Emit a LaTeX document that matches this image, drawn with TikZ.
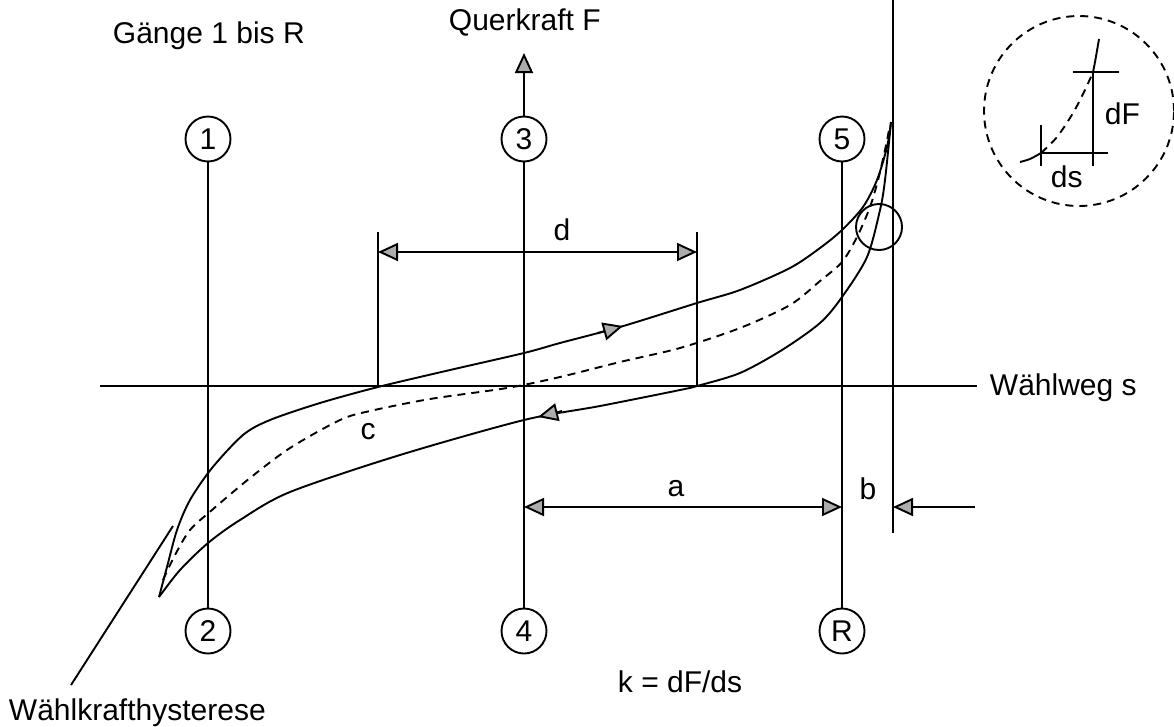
\documentclass[tikz,border=0pt]{standalone}
\usepackage{fontspec}
\setmainfont{Liberation Sans}
\usetikzlibrary{arrows.meta}
\begin{document}
\begin{tikzpicture}[x=1pt,y=-1pt,line width=1.9pt,
  font=\fontsize{30}{36}\selectfont,
  >={Triangle[length=20pt,width=18pt,fill=gray!65]},
  gear/.style={circle,draw,minimum size=45pt,inner sep=0pt},
  lbl/.style={anchor=base west,inner sep=0pt},
  dsh/.style={dash pattern=on 8pt off 6pt},
  curve/.style={smooth,tension=0.5}]
\useasboundingbox (0,0) rectangle (1174,726);

% gear circles
\node[gear] (n1) at (208,139) {1};
\node[gear] (n3) at (524,139) {3};
\node[gear] (n5) at (842,139) {5};
\node[gear] (n2) at (208,631) {2};
\node[gear] (n4) at (524,631) {4};
\node[gear] (nR) at (842,631) {R};

\coordinate (ftip) at (524,53);
\draw (n1) -- (n2);
\draw (n3) -- (n4);
\draw[->] (n3) -- (ftip);
\draw (n5) -- (nR);

% s axis
\coordinate (sl) at (100,386);
\coordinate (sr) at (977,386);
\draw (sl) -- (sr);
\node[lbl] (ws) at (989,395) {Wählweg s};

% right end line
\coordinate (et) at (893,0);
\coordinate (eb) at (893,533);
\draw (et) -- (eb);

% d dimension
\coordinate (dlt) at (378,232); \coordinate (dlb) at (378,386);
\coordinate (drt) at (697,232); \coordinate (drb) at (697,386);
\draw (dlt) -- (dlb);
\draw (drt) -- (drb);
\coordinate (dl) at (378,252); \coordinate (dr) at (697,252);
\draw[<->] (dl) -- (dr);
\node (dtxt) at (562,230) {d};

% a and b dimensions
\coordinate (al) at (524,507); \coordinate (ar) at (842,507);
\coordinate (bo) at (975,507); \coordinate (bt) at (893,507);
\draw[<->] (al) -- (ar);
\draw[->] (bo) -- (bt);
\node (atxt) at (676,489) {a};
\node (btxt) at (868,489) {b};

% hysteresis loop
\draw plot[curve] coordinates {(159,597) (167,567) (177,530) (190,500) (212,468) (243,435) (270,420) (320,403) (378,387) (450,370) (524,353) (560,343) (620,327) (697,303) (740,290) (790,268) (820,248) (842,230) (863,207) (877,180) (887,147) (891,122)};
\draw plot[curve] coordinates {(891,122) (885,180) (880,210) (867,257) (842,297) (820,323) (782,350) (740,373) (697,386) (680,390) (600,406) (524,420) (400,455) (290,492) (240,520) (208,543) (180,570) (159,597)};
\draw[dsh] plot[curve] coordinates {(163,580) (175,555) (190,530) (212,510) (250,478) (290,448) (340,420) (370,411) (430,399) (507,388) (560,377) (620,362) (680,348) (740,328) (790,305) (820,281) (842,262) (857,237) (870,207) (878,180) (885,150) (890,125)};

% direction arrows on the loop
\coordinate (ua) at (598,333); \coordinate (ub) at (623,326);
\draw[->] (ua) -- (ub);
\coordinate (la) at (562,411); \coordinate (lb) at (538,417);
\draw[->] (la) -- (lb);

\node (ctxt) at (368,432) {c};

% detail circle
\node[circle,draw,minimum size=46pt,inner sep=0pt] (zc) at (879,227) {};

% inset
\node[circle,draw,dsh,minimum size=190pt,inner sep=0pt] (inset) at (1079,111) {};
\draw plot[curve] coordinates {(1020,162) (1030,159) (1041,153)};
\draw[dsh] plot[curve] coordinates {(1041,153) (1057,137) (1073,113) (1085,90) (1093,72)};
\draw plot[curve] coordinates {(1093,72) (1095,62) (1099,39)};
\coordinate (h1a) at (1041,153); \coordinate (h1b) at (1108,153);
\coordinate (v1a) at (1041,125); \coordinate (v1b) at (1041,166);
\coordinate (v2a) at (1093,72); \coordinate (v2b) at (1093,166);
\coordinate (h2a) at (1073,72); \coordinate (h2b) at (1119,72);
\draw (h1a) -- (h1b);
\draw (v1a) -- (v1b);
\draw (v2a) -- (v2b);
\draw (h2a) -- (h2b);
\node[lbl] (dF) at (1104,124) {dF};
\node[lbl] (ds) at (1050,187) {ds};

% pointer
\coordinate (pa) at (71,685); \coordinate (pb) at (173,526);
\draw (pa) -- (pb);

% texts
\node[lbl] (gange) at (112,43) {Gänge 1 bis R};
\node[lbl] (qf) at (448,30) {Querkraft F};
\node[lbl] (kf) at (617,692) {k = dF/ds};
\node[lbl] (wh) at (8,720) {Wählkrafthysterese};
\end{tikzpicture}
\end{document}
